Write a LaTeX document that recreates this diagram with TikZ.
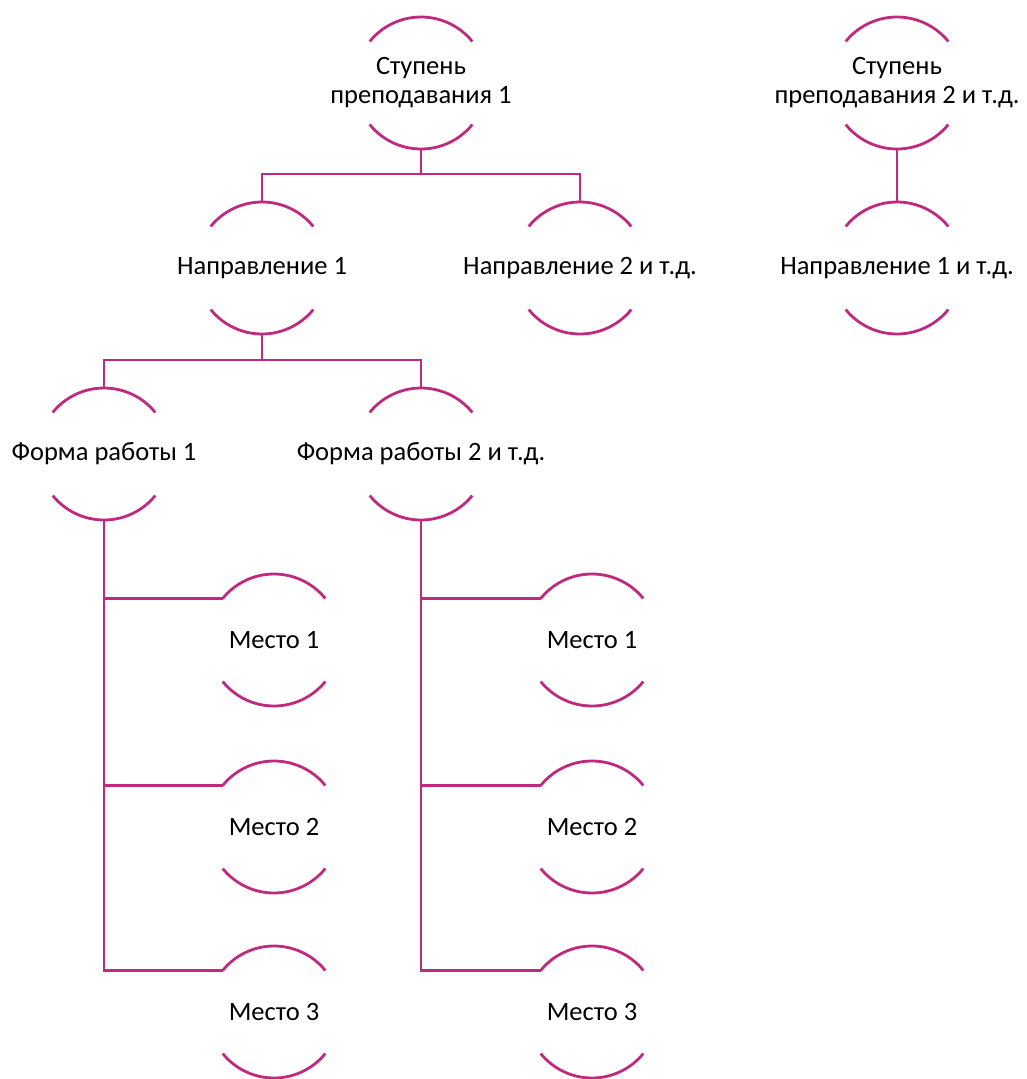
\documentclass[tikz,border=0pt]{standalone}
\usepackage{fontspec}
\setmainfont{Carlito}
\usetikzlibrary{calc}
\definecolor{mag}{HTML}{BF2A7F}
\tikzset{
  lbl/.style={inner sep=0pt, outer sep=0pt, align=center, font=\fontsize{26.5}{29}\selectfont, text=black},
  arcst/.style={draw=mag, line width=2.8pt},
  conn/.style={draw=mag, line width=2.8pt},
}
\newcommand\bub[3]{%
  \node[lbl] (#1) at (#2) {#3};
  \draw[arcst] ($(#1.center)+(39:66pt)$) arc[start angle=39,end angle=141,radius=66pt];
  \draw[arcst] ($(#1.center)+(-39:66pt)$) arc[start angle=-39,end angle=-141,radius=66pt];
  \coordinate (#1-n) at ($(#1.center)+(0,66pt)$);
  \coordinate (#1-s) at ($(#1.center)+(0,-66pt)$);
  \coordinate (#1-w) at ($(#1.center)+(141:66pt)$);
}
\begin{document}
\begin{tikzpicture}[x=1pt,y=1pt]
\useasboundingbox (0,0) rectangle (1027,-1079);
\bub{S1}{421,-83}{Ступень\\преподавания 1}
\bub{S2}{897,-83}{Ступень\\преподавания 2 и т.д.}
\bub{N1}{262,-268}{Направление 1}
\bub{N2}{580,-268}{Направление 2 и т.д.}
\bub{N3}{897,-268}{Направление 1 и т.д.}
\bub{F1}{104,-454}{Форма работы 1}
\bub{F2}{421,-454}{Форма работы 2 и т.д.}
\bub{ML1}{274,-640}{Место 1}
\bub{ML2}{274,-827}{Место 2}
\bub{ML3}{274,-1012}{Место 3}
\bub{MR1}{592,-640}{Место 1}
\bub{MR2}{592,-827}{Место 2}
\bub{MR3}{592,-1012}{Место 3}
\coordinate (j1) at ($(S1-s)+(0,-25)$);
\coordinate (j2) at ($(N1-s)+(0,-26)$);
\draw[conn] (S1-s) -- (j1);
\draw[conn] (N1-n) |- (j1) -| (N2-n);
\draw[conn] (S2-s) -- (N3-n);
\draw[conn] (N1-s) -- (j2);
\draw[conn] (F1-n) |- (j2) -| (F2-n);
\draw[conn] (F1-s) |- (ML1-w);
\draw[conn] (F1-s) |- (ML2-w);
\draw[conn] (F1-s) |- (ML3-w);
\draw[conn] (F2-s) |- (MR1-w);
\draw[conn] (F2-s) |- (MR2-w);
\draw[conn] (F2-s) |- (MR3-w);
\end{tikzpicture}
\end{document}
